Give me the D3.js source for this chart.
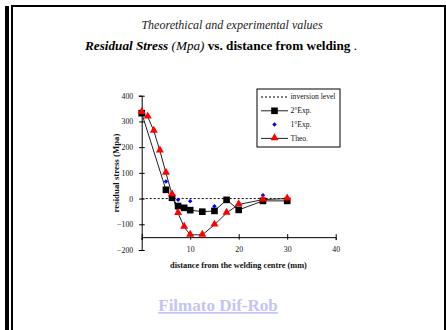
<!DOCTYPE html>
<html lang="en">
<head>
<meta charset="UTF-8" />
<title>Residual Stress</title>
<script src="https://d3js.org/d3.v7.min.js"></script>
<style>
  body { margin: 0; background: #fff; }
</style>
</head>
<body>
<div id="chart"></div>
<script>
// data
var theoX = [0, 1.25, 2.5, 3.75, 5, 6.25, 7.5, 8.75, 10, 12.5, 15, 17.5, 20, 25, 30]
var theoY = [336, 318, 263, 186, 100, 16, -57, -110, -141, -141, -102, -56, -23, -4, 0]

var exp2X = [0, 5, 6.25, 7.5, 8.75, 10, 12.5, 15, 17.5, 20, 25, 30]
var exp2Y = [332, 34, 3, -29, -36, -45, -51, -48, -5, -44, -9, -9]

var exp1X = [5, 7.5, 10, 15, 25]
var exp1Y = [66, -5, -10, -30, 13]

var inversionX = [0, 30]
var inversionY = [0, 0]

var xTicks = [0, 10, 20, 30, 40]
var yTicks = [-200, -100, 0, 100, 200, 300, 400]
var legendNames = ["inversion level", "2°Exp.", "1°Exp.", "Theo."]

var width = 446, height = 330
var serif = "Liberation Serif"

var svg = d3.select("#chart").append("svg")
  .attr("width", width)
  .attr("height", height)

// page frame
svg.append("rect").attr("x", 5).attr("y", 6).attr("width", 4).attr("height", 324).attr("fill", "#000")
svg.append("rect").attr("x", 11).attr("y", 5).attr("width", 2).attr("height", 325).attr("fill", "#000")
svg.append("rect").attr("x", 11).attr("y", 5).attr("width", 435).attr("height", 2).attr("fill", "#000")
svg.append("rect").attr("x", 444).attr("y", 5).attr("width", 2).attr("height", 325).attr("fill", "#000")

// titles
svg.append("text")
  .attr("x", 232).attr("y", 29)
  .attr("text-anchor", "middle")
  .style("font-family", serif)
  .style("font-size", "12px").style("font-style", "italic").attr("fill", "#222")
  .text("Theorethical and experimental values")

var t2 = svg.append("text")
  .attr("x", 221).attr("y", 50)
  .attr("text-anchor", "middle")
  .style("font-family", serif)
  .style("font-size", "13.2px").attr("fill", "#000")
t2.append("tspan").style("font-weight", "bold").style("font-style", "italic").text("Residual Stress ")
t2.append("tspan").style("font-style", "italic").text("(Mpa) ")
t2.append("tspan").style("font-weight", "bold").text("vs. distance from welding")
t2.append("tspan").text(" .")

// scales
var x = d3.scaleLinear().domain([0, 40]).range([141.7, 335.7])
var y = d3.scaleLinear().domain([-200, 400]).range([250, 95.7])

// y axis
var yAxis = svg.append("g")
  .attr("transform", "translate(" + x(0) + ",0)")
  .call(d3.axisLeft(y).tickValues(yTicks).tickSizeOuter(0).tickSize(3).tickPadding(5.5))
yAxis.select(".domain").attr("stroke", "#000")
yAxis.selectAll(".tick line").attr("x1", -2.5).attr("x2", 3).attr("stroke", "#000")
yAxis.selectAll(".tick text")
  .style("font-size", "7.8px").attr("fill", "#111")
  .style("font-family", serif)

// x axis crosses at -150
var xAxis = svg.append("g")
  .attr("transform", "translate(0," + y(-150) + ")")
  .call(d3.axisBottom(x).tickValues(xTicks).tickSizeOuter(0).tickSize(3))
xAxis.select(".domain").attr("stroke", "#000")
xAxis.selectAll(".tick line").attr("y1", -3).attr("y2", 2.5).attr("stroke", "#000")
xAxis.selectAll(".tick text")
  .attr("y", y(-200) - y(-150)).attr("dy", "0.32em")
  .style("font-size", "7.8px").attr("fill", "#111")
  .style("font-family", serif)
  .text(function (d) { return d === 0 ? "" : d })

// axis titles
svg.append("text")
  .attr("transform", "translate(119," + 173 + ") rotate(-90)")
  .attr("text-anchor", "middle")
  .style("font-family", serif)
  .style("font-size", "8.8px").style("font-weight", "bold").attr("fill", "#111")
  .text("residual stress (Mpa)")

svg.append("text")
  .attr("x", 238.5).attr("y", 268)
  .attr("text-anchor", "middle")
  .style("font-family", serif)
  .style("font-size", "8.3px").style("font-weight", "bold").attr("fill", "#111")
  .text("distance from the welding centre (mm)")

// lines
var line = d3.line().x(function (d) { return x(d[0]) }).y(function (d) { return y(d[1]) })
var inv = d3.zip(inversionX, inversionY)
var exp2 = d3.zip(exp2X, exp2Y)
var exp1 = d3.zip(exp1X, exp1Y)
var theo = d3.zip(theoX, theoY)

svg.append("path").datum(inv).attr("d", line)
  .attr("fill", "none").attr("stroke", "#000").attr("stroke-dasharray", "2,2")

svg.append("path").datum(exp2).attr("d", line)
  .attr("fill", "none").attr("stroke", "#222").attr("stroke-width", 1)

svg.append("path").datum(theo).attr("d", line)
  .attr("fill", "none").attr("stroke", "#222").attr("stroke-width", 1)

var sym = {
  square: d3.symbol().type(d3.symbolSquare).size(44),
  diamond: d3.symbol().type(d3.symbolSquare).size(10),
  triangle: d3.symbol().type(d3.symbolTriangle).size(28)
}

svg.selectAll(".sq").data(exp2).enter().append("path")
  .attr("class", "sq")
  .attr("d", sym.square)
  .attr("transform", function (d) { return "translate(" + x(d[0]) + "," + y(d[1]) + ")" })
  .attr("fill", "#000")

svg.selectAll(".dm").data(exp1).enter().append("path")
  .attr("class", "dm")
  .attr("d", sym.diamond)
  .attr("transform", function (d) { return "translate(" + x(d[0]) + "," + y(d[1]) + ") rotate(45)" })
  .attr("fill", "#0000ff")

svg.selectAll(".tr").data(theo).enter().append("path")
  .attr("class", "tr")
  .attr("d", sym.triangle)
  .attr("transform", function (d) { return "translate(" + x(d[0]) + "," + (y(d[1]) - 0.5) + ")" })
  .attr("fill", "#ff0000")

// legend
var lg = svg.append("g").attr("transform", "translate(257,89)")
lg.append("rect").attr("width", 83).attr("height", 58)
  .attr("fill", "#fff").attr("stroke", "#000").attr("stroke-width", 1)

var rows = lg.selectAll(".row").data(legendNames).enter().append("g")
  .attr("transform", function (d, i) { return "translate(0," + (8 + i * 13.8) + ")" })

rows.append("text")
  .attr("x", 33.5).attr("dy", "0.32em")
  .style("font-family", serif)
  .style("font-size", "7.6px").attr("fill", "#111")
  .text(function (d) { return d })

rows.each(function (d, i) {
  var g = d3.select(this)
  if (i === 0) {
    g.append("line").attr("x1", 4).attr("x2", 31).attr("stroke", "#000").attr("stroke-dasharray", "2,2")
  } else if (i === 1) {
    g.append("line").attr("x1", 4).attr("x2", 31).attr("stroke", "#222")
    g.append("path").attr("d", sym.square).attr("transform", "translate(17.5,0)").attr("fill", "#000")
  } else if (i === 2) {
    g.append("path").attr("d", sym.diamond).attr("transform", "translate(17.5,0) rotate(45)").attr("fill", "#0000ff")
  } else {
    g.append("line").attr("x1", 4).attr("x2", 31).attr("stroke", "#222")
    g.append("path").attr("d", sym.triangle).attr("transform", "translate(17.5,-0.5)").attr("fill", "#ff0000")
  }
})

// link text
svg.append("text")
  .attr("x", 218).attr("y", 311)
  .attr("text-anchor", "middle")
  .style("font-family", serif)
  .style("font-size", "17px").style("font-weight", "bold")
  .style("text-decoration", "underline")
  .attr("fill", "#c4c4f6")
  .text("Filmato Dif-Rob")
</script>
</body>
</html>
